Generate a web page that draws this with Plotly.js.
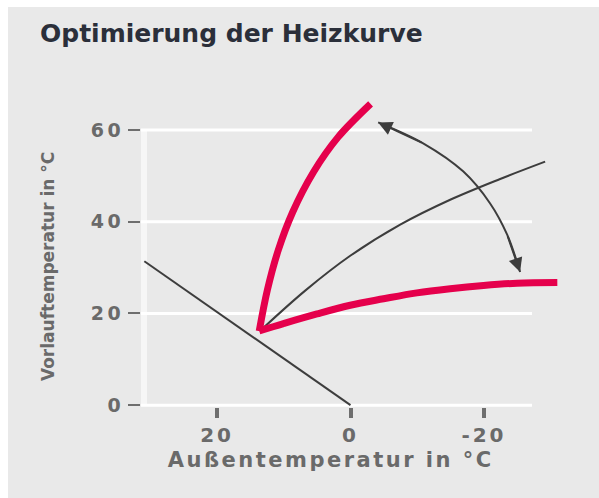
<!DOCTYPE html>
<html>
<head>
<meta charset="utf-8">
<script src="https://cdn.plot.ly/plotly-3.0.1.min.js"></script>
<style>
  html, body { margin: 0; padding: 0; background: #ffffff; }
  #chart { position: absolute; left: 8px; top: 7px; width: 591px; height: 491px; }
  #chart .xtick text { letter-spacing: 3px; }
  #chart .ytick text { letter-spacing: 3.5px; }
  #chart .annotation-text.axt { letter-spacing: 2.5px; }
</style>
</head>
<body>
<div id="chart"></div>
<script>
// ---- data ----
const xTickVals = [20, 0, -20];
const xTickText = ['20', '0', '-20'];
const yTickVals = [0, 20, 40, 60];

// straight reference line
const baseLineX = [30.9, 0];
const baseLineY = [31.4, 0];

// steep optimized heating curve (red)
const steepX = [13.68, 12.46, 10.82, 8.66, 5.54, 1.89, -3.01];
const steepY = [16.16, 25.11, 33.84, 42.14, 50.87, 58.41, 65.72];

// flat optimized heating curve (red)
const flatX = [13.68, 10.04, 5.03, 0.04, -4.94, -9.95, -14.94, -19.93, -24.94, -31.0];
const flatY = [16.2, 17.8, 19.9, 21.8, 23.2, 24.5, 25.4, 26.1, 26.6, 26.75];

// middle heating curve (thin dark)
const midX = [12.93, 6.79, 0.04, -7.45, -14.94, -22.43, -29.17];
const midY = [17.03, 24.98, 32.58, 39.37, 44.80, 49.34, 53.12];

// double-headed curved arrow
const arrowX = [-4.15, -10.89, -16.88, -20.93, -23.48, -25.42];
const arrowY = [61.68, 57.12, 51.00, 44.00, 37.18, 29.04];

// ---- styling ----
const RED = '#e5004c';
const DARK = '#3d3d3d';
const TXT = '#6a6a6a';
const FONT = 'DejaVu Sans, Arial, sans-serif';

const traces = [
  { x: baseLineX, y: baseLineY, mode: 'lines', line: { color: DARK, width: 2 }, hoverinfo: 'skip', showlegend: false },
  { x: midX, y: midY, mode: 'lines', line: { color: DARK, width: 2, shape: 'spline', smoothing: 1 }, hoverinfo: 'skip', showlegend: false },
  { x: arrowX, y: arrowY, mode: 'lines', line: { color: DARK, width: 2, shape: 'spline', smoothing: 1 }, hoverinfo: 'skip', showlegend: false },
  { x: steepX, y: steepY, mode: 'lines', line: { color: RED, width: 7, shape: 'spline', smoothing: 1 }, hoverinfo: 'skip', showlegend: false },
  { x: flatX, y: flatY, mode: 'lines', line: { color: RED, width: 7, shape: 'spline', smoothing: 1 }, hoverinfo: 'skip', showlegend: false }
];

const xLeft = 31.4, xRight = -31.7, gridEnd = -27.2;
const shapes = [];
yTickVals.forEach(v => {
  shapes.push({ type: 'line', xref: 'x', yref: 'y', x0: xLeft, x1: gridEnd, y0: v, y1: v,
                line: { color: '#ffffff', width: 3 }, layer: 'below' });
});
shapes.push({ type: 'rect', xref: 'paper', yref: 'y', x0: 0, x1: 6 / 421,
              y0: yTickVals[0], y1: yTickVals[yTickVals.length - 1],
              fillcolor: '#f6f6f6', line: { width: 0 }, layer: 'below' });

const n = arrowX.length;
const annotations = [
  { x: arrowX[0], y: arrowY[0], ax: arrowX[1], ay: arrowY[1], xref: 'x', yref: 'y', axref: 'x', ayref: 'y',
    text: '', showarrow: true, arrowhead: 2, arrowsize: 1.4, arrowwidth: 2, arrowcolor: DARK, standoff: 0 },
  { x: arrowX[n - 1], y: arrowY[n - 1], ax: arrowX[n - 2], ay: arrowY[n - 2], xref: 'x', yref: 'y', axref: 'x', ayref: 'y',
    text: '', showarrow: true, arrowhead: 2, arrowsize: 1.4, arrowwidth: 2, arrowcolor: DARK, standoff: 0 },
  { text: 'Außentemperatur in °C', xref: 'paper', yref: 'paper', x: 0.451, y: -0.172,
    xanchor: 'center', yanchor: 'middle', showarrow: false,
    font: { family: FONT, size: 21, color: TXT, weight: 'bold' } },
  { text: 'Vorlauftemperatur in °C', xref: 'paper', yref: 'paper', x: -0.221, y: 0.456,
    xanchor: 'center', yanchor: 'middle', showarrow: false, textangle: -90,
    font: { family: FONT, size: 17, color: TXT, weight: 'bold' } }
];

const layout = {
  width: 591, height: 491,
  paper_bgcolor: '#e9e9e9', plot_bgcolor: 'rgba(0,0,0,0)',
  margin: { l: 133, r: 37, t: 91, b: 91, pad: 0 },
  title: { text: 'Optimierung der Heizkurve', xref: 'container', yref: 'container',
           x: 32 / 591, xanchor: 'left', y: 1 - 17 / 491, yanchor: 'top',
           font: { family: FONT, size: 25, color: '#2b2f3a', weight: 'bold' } },
  xaxis: { range: [xLeft, xRight], tickvals: xTickVals, ticktext: xTickText,
           showgrid: false, zeroline: false, showline: false,
           ticks: 'outside', ticklen: 10, tickwidth: 4, tickcolor: '#6e6e6e',
           tickfont: { family: FONT, size: 20, color: TXT, weight: 'bold' }, fixedrange: true },
  yaxis: { range: [-0.4, 67], tickvals: yTickVals,
           showgrid: false, zeroline: false, showline: false,
           ticks: 'outside', ticklen: 12, tickwidth: 2, tickcolor: '#6e6e6e', ticklabelstandoff: 0,
           tickfont: { family: FONT, size: 19, color: TXT, weight: 'bold' }, fixedrange: true },
  shapes: shapes,
  annotations: annotations,
  showlegend: false
};

Plotly.newPlot('chart', traces, layout, { displayModeBar: false, staticPlot: true }).then(() => {
  document.querySelectorAll('#chart .annotation-text').forEach(t => {
    if (t.textContent.indexOf('Außen') >= 0) t.classList.add('axt');
  });
});
</script>
</body>
</html>
